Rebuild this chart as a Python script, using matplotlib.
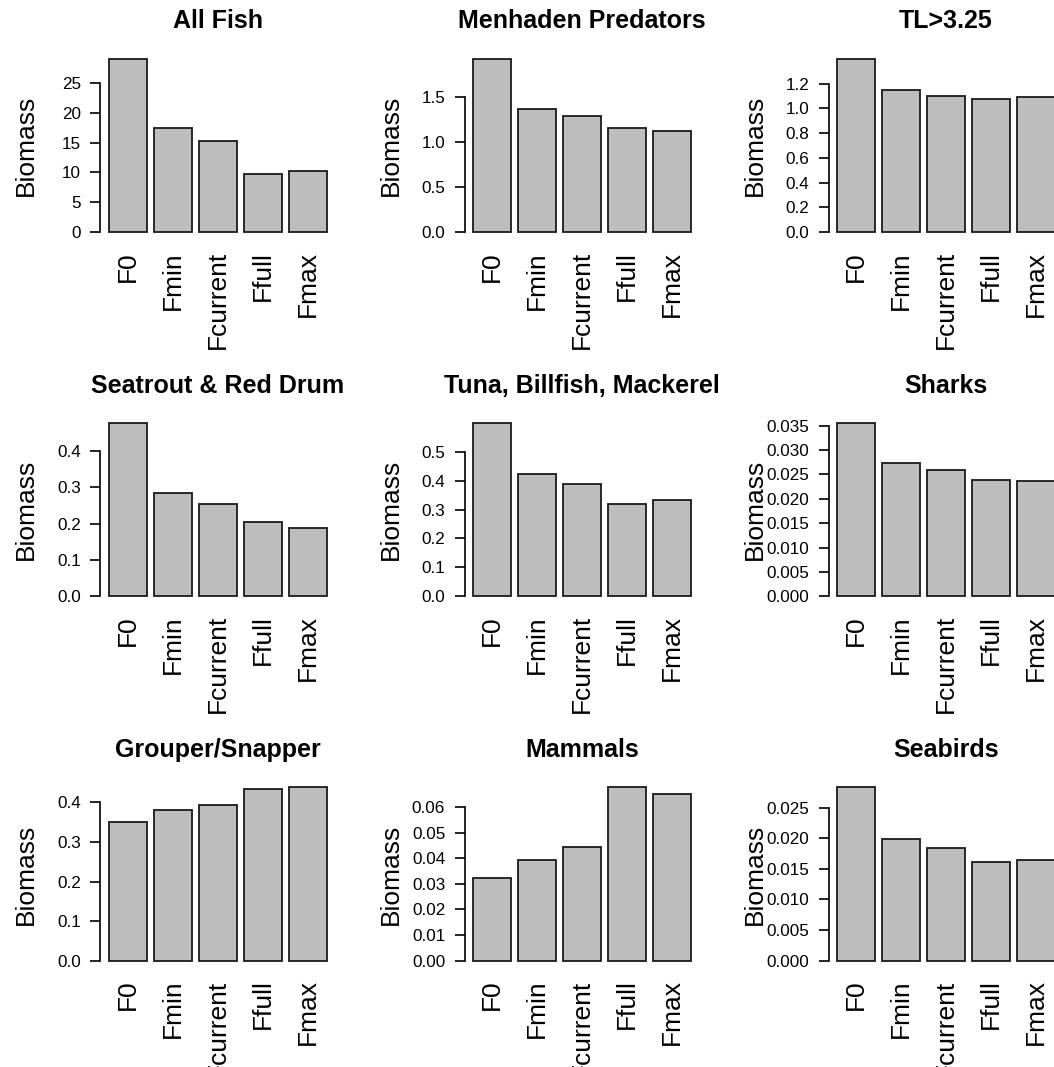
import matplotlib.pyplot as plt
import numpy as np

plt.rcParams['font.family'] = ['Liberation Sans', 'DejaVu Sans']

scenarios = ['F0', 'Fmin', 'Fcurrent', 'Ffull', 'Fmax']

titles = ['All Fish', 'Menhaden Predators', 'TL>3.25',
          'Seatrout & Red Drum', 'Tuna, Billfish, Mackerel', 'Sharks',
          'Grouper/Snapper', 'Mammals', 'Seabirds']

all_fish = [29.0, 17.4, 15.27, 9.73, 10.23]
menhaden_pred = [1.92, 1.366, 1.291, 1.151, 1.118]
tl_325 = [1.398, 1.146, 1.103, 1.079, 1.092]
seatrout = [0.476, 0.285, 0.253, 0.204, 0.187]
tuna = [0.598, 0.421, 0.387, 0.320, 0.332]
sharks = [0.0355, 0.0273, 0.0259, 0.0239, 0.0236]
grouper = [0.351, 0.381, 0.393, 0.434, 0.438]
mammals = [0.0323, 0.0394, 0.0444, 0.0678, 0.0652]
seabirds = [0.0283, 0.0198, 0.0184, 0.0161, 0.0164]

groups = [all_fish, menhaden_pred, tl_325,
          seatrout, tuna, sharks,
          grouper, mammals, seabirds]

# y tick spacing for each panel
tick_steps = [5, 0.5, 0.2, 0.1, 0.1, 0.005, 0.1, 0.01, 0.005]

W, H = 1054, 1067
fig = plt.figure(figsize=(W / 100, H / 100), dpi=100)

# plot regions in pixels (3x3 grid, right column runs off the page)
col_left = [100.3, 464.6, 828.6]
row_top = [52.1, 416.3, 780.5]
pw, ph = 235, 187

# barplot geometry: width 1, space 0.2
centers = 0.2 + 0.5 + 1.2 * np.arange(len(scenarios))

for k in range(9):
    r, c = divmod(k, 3)
    ax = fig.add_axes([col_left[c] / W, 1 - (row_top[r] + ph) / H, pw / W, ph / H])
    vals = groups[k]
    m = max(vals)
    ax.bar(centers, vals, width=1.0, color='#bebebe', edgecolor='#1a1a1a', linewidth=1.3)
    ax.set_xlim(-0.032, 6.232)
    ax.set_ylim(-0.04 * m, 1.04 * m)

    step = tick_steps[k]
    ticks = np.arange(0, m + 1e-12, step)
    ndec = max(0, int(np.ceil(-np.log10(step) - 1e-9)))
    if step < 1 and ndec == 0:
        ndec = 1
    ax.set_yticks(ticks)
    ax.set_yticklabels(['%.*f' % (ndec, t) for t in ticks])
    ax.spines['left'].set_bounds(0, ticks[-1])
    ax.spines['left'].set_linewidth(1.2)
    for s in ['top', 'right', 'bottom']:
        ax.spines[s].set_visible(False)
    ax.tick_params(axis='y', length=7.5, width=1.2, pad=6.5, labelsize=12.3)

    ax.set_xticks(centers)
    ax.set_xticklabels(scenarios, rotation=90, fontsize=19)
    ax.tick_params(axis='x', length=0, pad=8.5)

    ax.set_title(titles[k], fontsize=18, fontweight='bold', pad=17)
    ax.text(-74 / pw, 0.5, 'Biomass', rotation=90, fontsize=19,
            ha='center', va='center', transform=ax.transAxes)

plt.savefig('out.png', dpi=100)
